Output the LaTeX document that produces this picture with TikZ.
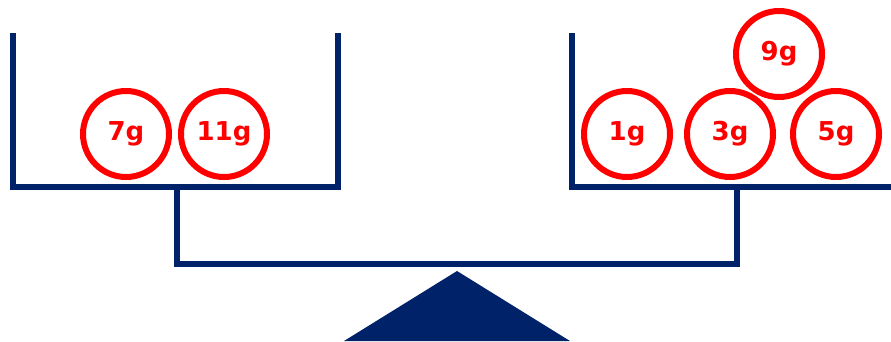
\documentclass[tikz,border=0pt]{standalone}
\usepackage{fontspec}
\setmainfont{DejaVu Sans}
\definecolor{navy}{RGB}{0,34,104}
\definecolor{wred}{RGB}{255,0,0}
\tikzset{
  frame/.style={draw=navy, line width=5.5pt, line join=miter},
  weight/.style={circle, draw=wred, line width=6pt, minimum size=86pt, inner sep=0pt,
     text=wred, font=\fontsize{26}{28}\selectfont\bfseries},
}
\begin{document}
\begin{tikzpicture}[x=1pt,y=-1pt]
\useasboundingbox (0,0) rectangle (891,341);
% pans
\coordinate (LTL) at (13,33);
\coordinate (LBL) at (13,187);
\coordinate (LBR) at (338,187);
\coordinate (LTR) at (338,33);
\coordinate (RTL) at (572,33);
\coordinate (RBL) at (572,187);
\coordinate (RBR) at (893,187);
% beam
\coordinate (LS) at (177,187);
\coordinate (LB) at (177,264);
\coordinate (RB) at (737,264);
\coordinate (RS) at (737,187);
\draw[frame] (LTL) -- (LBL) -- (LBR) -- (LTR);
\draw[frame] (RTL) -- (RBL) -- (RBR);
\draw[frame] (LS) -- (LB) -- (RB) -- (RS);
% fulcrum
\coordinate (apex) at (457,271);
\coordinate (bl) at (344,341);
\coordinate (br) at (570,341);
\fill[navy] (apex) -- (br) -- (bl) -- cycle;
% weights
\node[weight] (w7) at (126,134) {7g};
\node[weight] (w11) at (224,134) {11g};
\node[weight] (w1) at (627,134) {1g};
\node[weight] (w3) at (730,134) {3g};
\node[weight] (w5) at (836,134) {5g};
\node[weight] (w9) at (779,54) {9g};
\end{tikzpicture}
\end{document}
